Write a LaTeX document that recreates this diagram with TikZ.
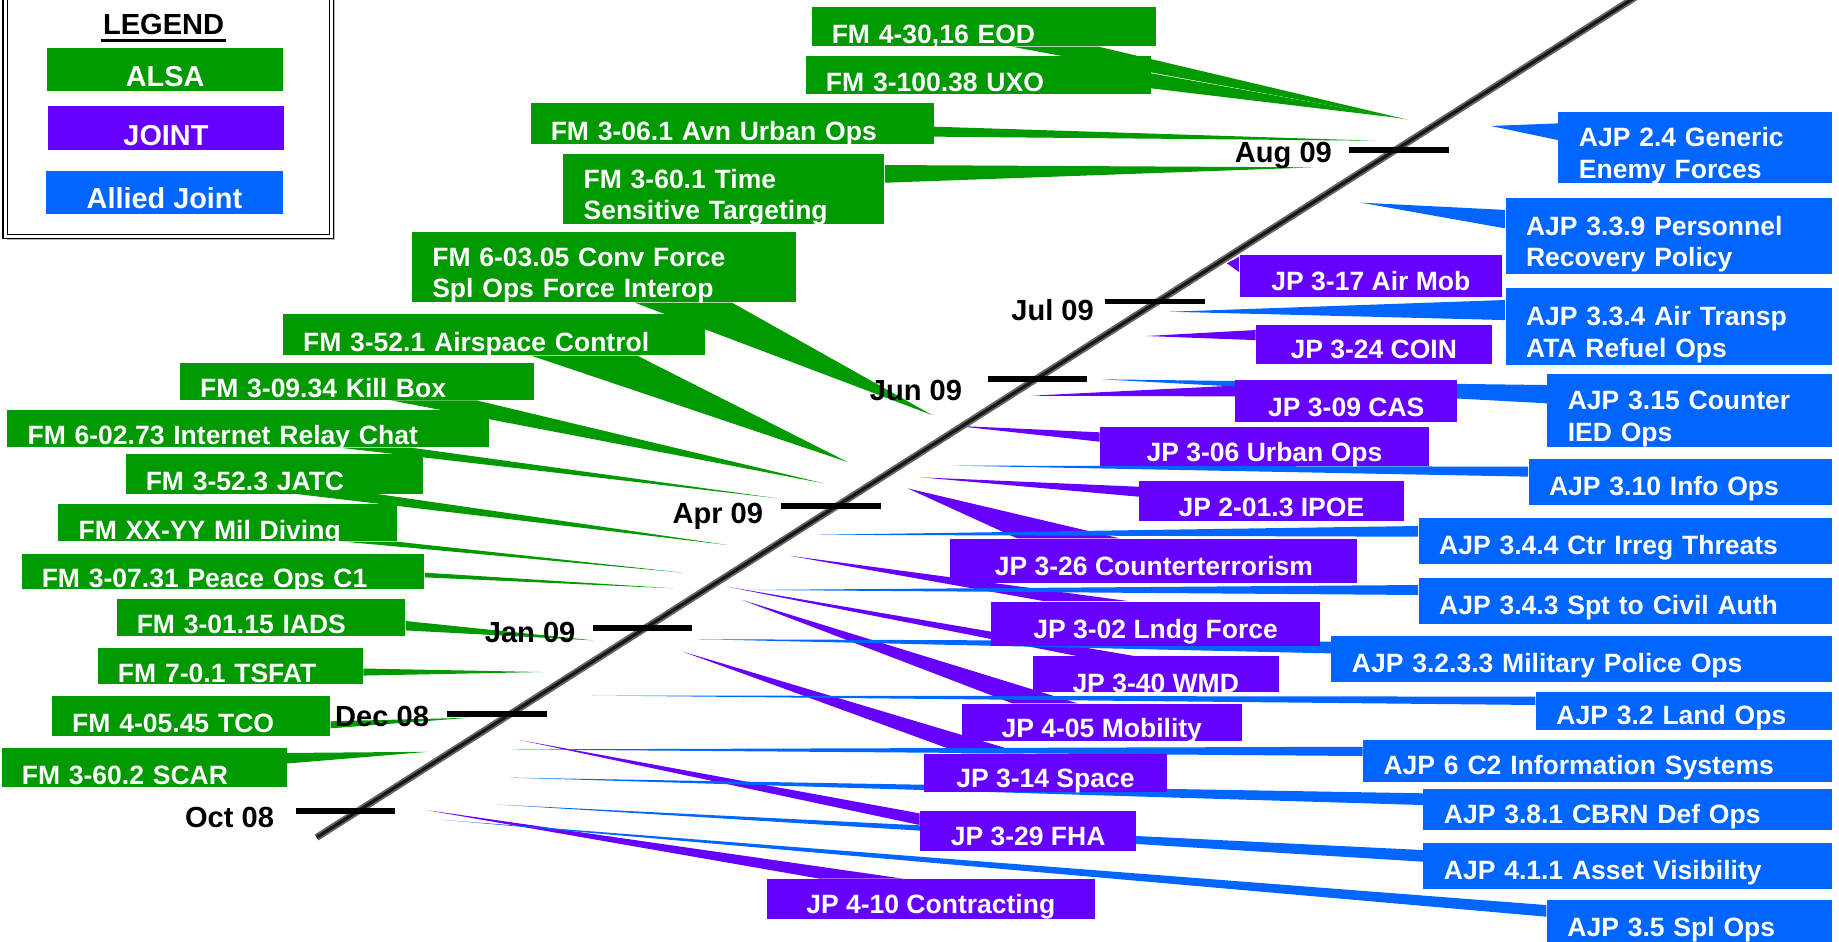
\documentclass[tikz,border=0pt]{standalone}
\usepackage{fontspec}
\setmainfont{Liberation Sans}
\usetikzlibrary{calc,backgrounds}
\definecolor{alsa}{HTML}{009900}
\definecolor{joint}{HTML}{6600FF}
\definecolor{allied}{HTML}{0066FF}
\tikzstyle{fmb} = [rectangle,
                   anchor=north west,
                   inner xsep=8.6pt,
                   inner ysep=0pt,
                   align=left,
                   text=white,
                   font=\fontsize{11.3}{13.5}\selectfont\bfseries,
                   text height=14.1pt,
                   text depth=0pt,
                   fill=alsa]
\tikzstyle{jpb} = [rectangle,
                   anchor=north west,
                   inner sep=0pt,
                   text=white,
                   font=\fontsize{11.3}{13.5}\selectfont\bfseries,
                   text height=12.6pt,
                   text depth=0pt,
                   fill=joint]
\tikzstyle{ajpb} = [rectangle,
                    anchor=north west,
                    inner xsep=8.75pt,
                    inner ysep=0pt,
                    align=left,
                    text=white,
                    font=\fontsize{11.3}{13.5}\selectfont\bfseries,
                    text height=11.6pt,
                    text depth=0pt,
                    fill=allied]
\tikzstyle{twolines} = [text height=9.6pt, text depth=10.5pt]
\tikzstyle{legb} = [rectangle,
                    anchor=north west,
                    inner sep=0pt,
                    text=white,
                    font=\fontsize{12.3}{14}\selectfont\bfseries,
                    text height=14.3pt,
                    text depth=0pt]
\tikzstyle{month} = [inner sep=0pt,
                     anchor=base east,
                     font=\fontsize{12.4}{14}\selectfont\bfseries]
\tikzstyle{monthtick} = [line width=2.4pt, black]
\tikzstyle{fmw} = [fill=alsa]
\tikzstyle{jpw} = [fill=joint]
\tikzstyle{ajpw} = [fill=allied]

\begin{document}
\begin{tikzpicture}[x=0.5pt, y=-0.5pt]
     \useasboundingbox (0,0) rectangle (1568,803);

     % legend
     \fill[gray!55] (6,-2) rectangle (285.3,204.3);
     \draw[fill=white, line width=0.5pt, double=white, double distance=1.4pt] (4.4,-5) rectangle (282.8,201.8);
     \node[inner sep=0pt, anchor=base, font=\fontsize{12.4}{14}\selectfont\bfseries] (legend) at (139.5,29.8) {LEGEND};
     \draw[line width=1.3pt] ($(legend.base west)+(-1,4.5)$) -- ($(legend.base east)+(1,4.5)$);
     \node[legb, fill=alsa, minimum width=100.6pt, minimum height=18.35pt] (lalsa) at (39.8,40.6) {ALSA};
     \node[legb, fill=joint, minimum width=100.5pt, minimum height=18.75pt] (ljoint) at (40.6,90.4) {JOINT};
     \node[legb, fill=allied, minimum width=100.65pt, minimum height=18.45pt] (lallied) at (39.2,145) {Allied Joint};

     % time line
     \draw[line width=3pt, black!60] (270,714) -- (1400,-6);
     \draw[line width=1.4pt, black!90] (270,714) -- (1400,-6);
     \draw[monthtick] (1150.3,127.9) -- (1235.3,127.9);
     \node[month] (aug) at (1136,138.9) {Aug 09};
     \draw[monthtick] (942,257.2) -- (1027.5,257.2);
     \node[month] (jul) at (933,273) {Jul 09};
     \draw[monthtick] (842,323.4) -- (926.5,323.4);
     \node[month] (jun) at (820.7,341.4) {Jun 09};
     \draw[monthtick] (665.6,431.5) -- (751.3,431.5);
     \node[month] (apr) at (651,446.6) {Apr 09};
     \draw[monthtick] (505.6,535.7) -- (590,535.7);
     \node[month] (jan) at (491,547.6) {Jan 09};
     \draw[monthtick] (381.4,609) -- (466.4,609);
     \node[month] (dec) at (366.2,619.5) {Dec 08};
     \draw[monthtick] (252.4,691.5) -- (336.8,691.5);
     \node[month] (oct) at (234,705.5) {Oct 08};

     % ALSA
     \node[fmb, minimum width=146.65pt, minimum height=16.65pt, text width=129.45pt] (eod) at (691.6,5.7) {FM 4-30,16 EOD};
     \node[fmb, minimum width=147pt, minimum height=16.3pt, text width=129.8pt] (uxo) at (686.6,47) {FM 3-100.38 UXO};
     \node[fmb, minimum width=171.8pt, minimum height=17.6pt, text width=154.6pt] (avn) at (452,87.6) {FM 3-06.1 Avn Urban Ops};
     \node[fmb, twolines, minimum width=136.85pt, minimum height=30.15pt, text width=119.65pt] (tst) at (480,130.7) {FM 3-60.1 Time\\Sensitive Targeting};
     \node[fmb, twolines, minimum width=163.5pt, minimum height=29.85pt, text width=146.3pt] (sof) at (351,197.5) {FM 6-03.05 Conv Force\\Spl Ops Force Interop};
     \node[fmb, minimum width=180.1pt, minimum height=17.6pt, text width=162.9pt] (asp) at (240.8,267.2) {FM 3-52.1 Airspace Control};
     \node[fmb, minimum width=151pt, minimum height=15.75pt, text width=133.8pt] (kbx) at (153,309) {FM 3-09.34 Kill Box};
     \node[fmb, minimum width=205.3pt, minimum height=15.9pt, text width=188.1pt] (irc) at (5.9,349) {FM 6-02.73 Internet Relay Chat};
     \node[fmb, minimum width=126.75pt, minimum height=16.8pt, text width=109.55pt] (jatc) at (106.7,387) {FM 3-52.3 JATC};
     \node[fmb, minimum width=144.15pt, minimum height=15.65pt, text width=126.95pt] (dive) at (49.4,429.7) {FM XX-YY Mil Diving};
     \node[fmb, minimum width=171.75pt, minimum height=15pt, text width=154.55pt] (peace) at (18,471.6) {FM 3-07.31 Peace Ops C1};
     \node[fmb, minimum width=123pt, minimum height=15.5pt, text width=105.8pt] (iads) at (99,510.5) {FM 3-01.15 IADS};
     \node[fmb, minimum width=113pt, minimum height=15.5pt, text width=95.8pt] (tsfat) at (83,552) {FM 7-0.1 TSFAT};
     \node[fmb, minimum width=118.5pt, minimum height=17pt, text width=101.3pt] (tco) at (44,593) {FM 4-05.45 TCO};
     \node[fmb, minimum width=121.5pt, minimum height=17pt, text width=104.3pt] (scar) at (1,637) {FM 3-60.2 SCAR};

     % JOINT
     \node[jpb, minimum width=111.85pt, minimum height=18.2pt] (airmob) at (1056.6,216.6) {JP 3-17 Air Mob};
     \node[jpb, minimum width=100.4pt, minimum height=16.75pt] (coin) at (1070.5,276.3) {JP 3-24 COIN};
     \node[jpb, minimum width=94.6pt, minimum height=17.75pt] (cas) at (1052.9,324) {JP 3-09 CAS};
     \node[jpb, minimum width=140.25pt, minimum height=16.35pt] (urban) at (937.5,363.8) {JP 3-06 Urban Ops};
     \node[jpb, minimum width=112.65pt, minimum height=16.95pt] (ipoe) at (971,410.1) {JP 2-01.3 IPOE};
     \node[jpb, minimum width=173.5pt, minimum height=18.75pt] (ct) at (810,459) {JP 3-26 Counterterrorism};
     \node[jpb, minimum width=140.3pt, minimum height=18.75pt] (lndg) at (844.6,512.5) {JP 3-02 Lndg Force};
     \node[jpb, minimum width=105pt, minimum height=15.25pt, text height=15.1pt] (wmd) at (880,559.3) {JP 3-40 WMD};
     \node[jpb, minimum width=119.25pt, minimum height=15.9pt] (mobil) at (819.8,599.7) {JP 4-05 Mobility};
     \node[jpb, minimum width=104pt, minimum height=16.1pt] (space) at (787,642.3) {JP 3-14 Space};
     \node[jpb, minimum width=92.2pt, minimum height=17.05pt] (fha) at (784,691.2) {JP 3-29 FHA};
     \node[jpb, minimum width=140pt, minimum height=16.9pt] (contr) at (653.2,749.2) {JP 4-10 Contracting};

     % Allied Joint
     \node[ajpb, twolines, minimum width=116.45pt, minimum height=30.3pt, text width=98.95pt] (enemy) at (1328.3,95.2) {AJP 2.4 Generic\\Enemy Forces};
     \node[ajpb, twolines, minimum width=138.95pt, minimum height=32.55pt, text width=121.45pt] (persrec) at (1283.3,168.5) {AJP 3.3.9 Personnel\\Recovery Policy};
     \node[ajpb, twolines, minimum width=138.95pt, minimum height=33.1pt, text width=121.45pt] (airtr) at (1283.3,245) {AJP 3.3.4 Air Transp\\ATA Refuel Ops};
     \node[ajpb, twolines, minimum width=121.15pt, minimum height=31pt, text width=103.65pt] (cied) at (1318.9,318.9) {AJP 3.15 Counter\\IED Ops};
     \node[ajpb, minimum width=129.35pt, minimum height=19.9pt, text width=111.85pt] (info) at (1302.9,390.8) {AJP 3.10 Info Ops};
     \node[ajpb, minimum width=176.2pt, minimum height=19.45pt, text width=158.7pt] (irreg) at (1209.2,441.4) {AJP 3.4.4 Ctr Irreg Threats};
     \node[ajpb, minimum width=176.2pt, minimum height=19.6pt, text width=158.7pt] (civil) at (1209.2,492.3) {AJP 3.4.3 Spt to Civil Auth};
     \node[ajpb, minimum width=213.4pt, minimum height=19.35pt, text width=195.9pt] (milpol) at (1134.8,542) {AJP 3.2.3.3 Military Police Ops};
     \node[ajpb, minimum width=126pt, minimum height=16.05pt, text width=108.5pt] (land) at (1309.2,589.8) {AJP 3.2 Land Ops};
     \node[ajpb, minimum width=199.7pt, minimum height=17.8pt, text width=182.2pt] (infosys) at (1161.8,630.4) {AJP 6 C2 Information Systems};
     \node[ajpb, minimum width=174pt, minimum height=17.75pt, text width=156.5pt] (cbrn) at (1213.2,672.2) {AJP 3.8.1 CBRN Def Ops};
     \node[ajpb, minimum width=174pt, minimum height=19.45pt, text width=156.5pt] (asset) at (1213.2,718.5) {AJP 4.1.1 Asset Visibility};
     \node[ajpb, minimum width=121.35pt, minimum height=20pt, text width=103.85pt] (splops) at (1318.5,766.8) {AJP 3.5 Spl Ops};

     % pointer tips
     \coordinate (eod-tip) at (1200,102);
     \coordinate (uxo-tip) at (1196,101);
     \coordinate (avn-tip) at (1173,120);
     \coordinate (tst-tip) at (1120,142.7);
     \coordinate (sof-tip) at (795,354);
     \coordinate (asp-tip) at (723.3,394.2);
     \coordinate (kbx-tip) at (702.3,412.1);
     \coordinate (irc-tip) at (663,424.9);
     \coordinate (jatc-tip) at (620.6,464.7);
     \coordinate (dive-tip) at (582.7,488.3);
     \coordinate (peace-tip) at (574,501.6);
     \coordinate (iads-tip) at (506,546);
     \coordinate (tsfat-tip) at (462,573);
     \coordinate (tco-tip) at (400,612);
     \coordinate (scar-tip) at (365,641);
     \coordinate (airmob-tip) at (1046,224.5);
     \coordinate (coin-tip) at (977.5,286.5);
     \coordinate (cas-tip) at (878.5,337.4);
     \coordinate (urban-tip) at (813.9,363);
     \coordinate (ipoe-tip) at (785.3,407);
     \coordinate (ct-tip) at (773.9,416.4);
     \coordinate (lndg-tip) at (673,473.8);
     \coordinate (wmd-tip) at (619.7,500.2);
     \coordinate (mobil-tip) at (633,511.6);
     \coordinate (space-tip) at (582.4,555.7);
     \coordinate (fha-tip) at (443.4,631);
     \coordinate (contr-tip) at (363.5,690.7);
     \coordinate (enemy-tip) at (1271,107.4);
     \coordinate (persrec-tip) at (1160.4,172.8);
     \coordinate (airtr-tip) at (997.4,265.8);
     \coordinate (cied-tip) at (939,323.4);
     \coordinate (info-tip) at (812,397);
     \coordinate (irreg-tip) at (696,456);
     \coordinate (civil-tip) at (640,503);
     \coordinate (milpol-tip) at (595,545);
     \coordinate (land-tip) at (505,593);
     \coordinate (infosys-tip) at (436,639);
     \coordinate (cbrn-tip) at (434,663);
     \coordinate (asset-tip) at (424,686);
     \coordinate (splops-tip) at (377,699);

     \begin{scope}[on background layer]
     \fill[white] (0,0) rectangle (1568,803);
     % ALSA pointers
     \fill[fmw] ($(eod.south west)+(171,0)$) -- ($(eod.south west)+(245,0)$) -- (eod-tip) -- cycle;
     \fill[fmw] ($(uxo.north east)+(0,15.5)$) -- ($(uxo.north east)+(0,28.3)$) -- (uxo-tip) -- cycle;
     \fill[fmw] ($(avn.north east)+(0,20.4)$) -- ($(avn.north east)+(0,28.9)$) -- (avn-tip) -- cycle;
     \fill[fmw] ($(tst.north east)+(0,10)$) -- ($(tst.north east)+(0,25.1)$) -- (tst-tip) -- cycle;
     \fill[fmw] ($(sof.south west)+(190,0)$) -- ($(sof.south west)+(273,0)$) -- (sof-tip) -- cycle;
     \fill[fmw] ($(asp.south west)+(212,0)$) -- ($(asp.south west)+(302.4,0)$) -- (asp-tip) -- cycle;
     \fill[fmw] ($(kbx.south west)+(180,0)$) -- ($(kbx.south west)+(253,0)$) -- (kbx-tip) -- cycle;
     \fill[fmw] ($(irc.south west)+(282.8,0)$) -- ($(irc.south west)+(344,0)$) -- (irc-tip) -- cycle;
     \fill[fmw] ($(jatc.south west)+(147.8,0)$) -- ($(jatc.south west)+(216.3,0)$) -- (jatc-tip) -- cycle;
     \fill[fmw] ($(dive.south west)+(243.3,0)$) -- ($(dive.south west)+(288.3,0)$) -- (dive-tip) -- cycle;
     \fill[fmw] ($(peace.north east)+(0,16.7)$) -- ($(peace.north east)+(0,20.7)$) -- (peace-tip) -- cycle;
     \fill[fmw] ($(iads.north east)+(0,19)$) -- ($(iads.north east)+(0,27)$) -- (iads-tip) -- cycle;
     \fill[fmw] ($(tsfat.north east)+(0,18)$) -- ($(tsfat.north east)+(0,24)$) -- (tsfat-tip) -- cycle;
     \fill[fmw] ($(tco.north east)+(0,22)$) -- ($(tco.north east)+(0,28)$) -- (tco-tip) -- cycle;
     \fill[fmw] ($(scar.north east)+(0,5)$) -- ($(scar.north east)+(0,14)$) -- (scar-tip) -- cycle;
     % JOINT pointers
     \fill[jpw] ($(airmob.north west)+(0,2.3)$) -- ($(airmob.north west)+(0,15.4)$) -- (airmob-tip) -- cycle;
     \fill[jpw] ($(coin.north west)+(0,5.1)$) -- ($(coin.north west)+(0,13.7)$) -- (coin-tip) -- cycle;
     \fill[jpw] ($(cas.north west)+(0,4.8)$) -- ($(cas.north west)+(0,14)$) -- (cas-tip) -- cycle;
     \fill[jpw] ($(urban.north west)+(0,4.8)$) -- ($(urban.north west)+(0,12.8)$) -- (urban-tip) -- cycle;
     \fill[jpw] ($(ipoe.north west)+(0,4.9)$) -- ($(ipoe.north west)+(0,13.4)$) -- (ipoe-tip) -- cycle;
     \fill[jpw] ($(ct.north west)+(57.2,0)$) -- ($(ct.north west)+(144.6,0)$) -- (ct-tip) -- cycle;
     \fill[jpw] ($(lndg.north west)+(45.4,0)$) -- ($(lndg.north west)+(117.4,0)$) -- (lndg-tip) -- cycle;
     \fill[jpw] ($(wmd.north west)+(38,0)$) -- ($(wmd.north west)+(87,0)$) -- (wmd-tip) -- cycle;
     \fill[jpw] ($(mobil.north west)+(43.4,0)$) -- ($(mobil.north west)+(99.1,0)$) -- (mobil-tip) -- cycle;
     \fill[jpw] ($(space.north west)+(32.8,0)$) -- ($(space.north west)+(85.5,0)$) -- (space-tip) -- cycle;
     \fill[jpw] ($(fha.north west)+(0,2.3)$) -- ($(fha.north west)+(0,12.2)$) -- (fha-tip) -- cycle;
     \fill[jpw] ($(contr.north west)+(45.8,0)$) -- ($(contr.north west)+(117.1,0)$) -- (contr-tip) -- cycle;
     % Allied Joint pointers
     \fill[ajpw] ($(enemy.north west)+(0,10)$) -- ($(enemy.north west)+(0,24.2)$) -- (enemy-tip) -- cycle;
     \fill[ajpw] ($(persrec.north west)+(0,10.5)$) -- ($(persrec.north west)+(0,26.2)$) -- (persrec-tip) -- cycle;
     \fill[ajpw] ($(airtr.north west)+(0,10.8)$) -- ($(airtr.north west)+(0,27.9)$) -- (airtr-tip) -- cycle;
     \fill[ajpw] ($(cied.north west)+(0,9.4)$) -- ($(cied.north west)+(0,25)$) -- (cied-tip) -- cycle;
     \fill[ajpw] ($(info.north west)+(0,7.1)$) -- ($(info.north west)+(0,15.6)$) -- (info-tip) -- cycle;
     \fill[ajpw] ($(irreg.north west)+(0,7.1)$) -- ($(irreg.north west)+(0,16.2)$) -- (irreg-tip) -- cycle;
     \fill[ajpw] ($(civil.north west)+(0,6.5)$) -- ($(civil.north west)+(0,15)$) -- (civil-tip) -- cycle;
     \fill[ajpw] ($(milpol.north west)+(0,5.1)$) -- ($(milpol.north west)+(0,15.1)$) -- (milpol-tip) -- cycle;
     \fill[ajpw] ($(land.north west)+(0,4.2)$) -- ($(land.north west)+(0,11.3)$) -- (land-tip) -- cycle;
     \fill[ajpw] ($(infosys.north west)+(0,6.3)$) -- ($(infosys.north west)+(0,14.2)$) -- (infosys-tip) -- cycle;
     \fill[ajpw] ($(cbrn.north west)+(0,4.2)$) -- ($(cbrn.north west)+(0,14.2)$) -- (cbrn-tip) -- cycle;
     \fill[ajpw] ($(asset.north west)+(0,6.3)$) -- ($(asset.north west)+(0,16.2)$) -- (asset-tip) -- cycle;
     \fill[ajpw] ($(splops.north west)+(0,4.9)$) -- ($(splops.north west)+(0,14.8)$) -- (splops-tip) -- cycle;
     \end{scope}
\end{tikzpicture}
\end{document}
